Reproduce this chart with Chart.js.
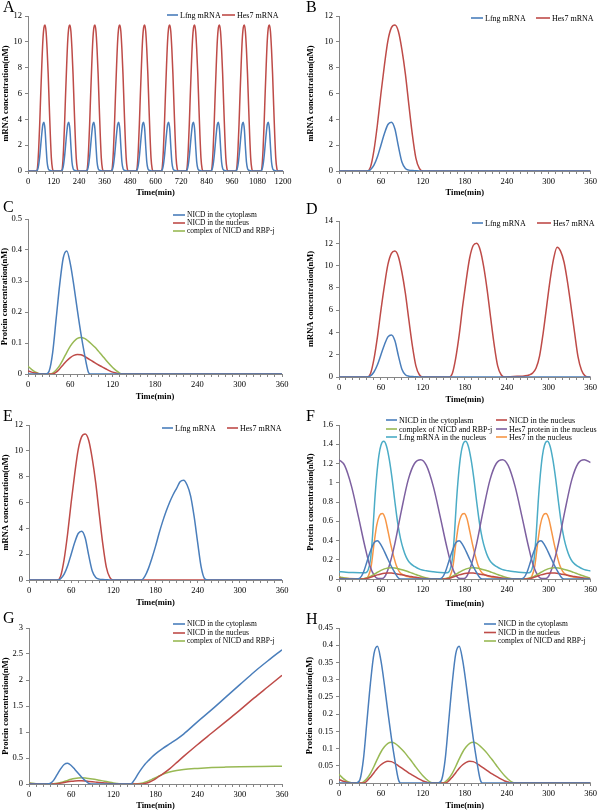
<!DOCTYPE html>
<html>
<head>
<meta charset="utf-8">
<script src="https://cdn.jsdelivr.net/npm/chart.js@4.4.0/dist/chart.umd.min.js"></script>
<style>
  body { margin: 0; background: #fff; width: 600px; height: 811px; position: relative; overflow: hidden;
         font-family: 'Liberation Serif', 'Times New Roman', serif; }
  canvas { position: absolute; }
  .lbl { position: absolute; font-size: 16px; line-height: 16px; color: #000; }
</style>
</head>
<body>
<canvas id="pA" width="300" height="200" style="left:0;top:0"></canvas>
<canvas id="pB" width="300" height="200" style="left:300px;top:0"></canvas>
<canvas id="pC" width="300" height="207" style="left:0;top:200px"></canvas>
<canvas id="pD" width="300" height="207" style="left:300px;top:200px"></canvas>
<canvas id="pE" width="300" height="210" style="left:0;top:400px"></canvas>
<canvas id="pF" width="300" height="210" style="left:300px;top:400px"></canvas>
<canvas id="pG" width="300" height="211" style="left:0;top:600px"></canvas>
<canvas id="pH" width="300" height="211" style="left:300px;top:600px"></canvas>
<div class="lbl" style="left:3px;top:-1.5px">A</div>
<div class="lbl" style="left:306px;top:-1.5px">B</div>
<div class="lbl" style="left:3px;top:198.5px">C</div>
<div class="lbl" style="left:306px;top:200.5px">D</div>
<div class="lbl" style="left:3px;top:407.5px">E</div>
<div class="lbl" style="left:306px;top:407.5px">F</div>
<div class="lbl" style="left:3px;top:609.5px">G</div>
<div class="lbl" style="left:306px;top:610.5px">H</div>
<script>
// series names
const mrnaNames = ['Lfng mRNA', 'Hes7 mRNA'];
const proteinNames = ['NICD in the cytoplasm', 'NICD in the nucleus', 'complex of NICD and RBP-j'];
const fNames = ['NICD in the cytoplasm', 'NICD in the nucleus', 'complex of NICD and RBP-j',
                'Hes7 protein in the nucleus', 'Lfng mRNA in the nucleus', 'Hes7 in the nucleus'];

// A: 0-1200 min
const aTime = [0,
  40,45,50,55,60,65,70,75,80,85,90,95,100,105,110,115,120,
  157,162,167,172,177,182,187,192,197,202,207,212,217,222,227,232,237,
  275,280,285,290,295,300,305,310,315,320,325,330,335,340,345,350,355,
  392,397,402,407,412,417,422,427,432,437,442,447,452,457,462,467,472,
  509,514,519,524,529,534,539,544,549,554,559,564,569,574,579,584,589,
  627,632,637,642,647,652,657,662,667,672,677,682,687,692,697,702,707,
  744,749,754,759,764,769,774,779,784,789,794,799,804,809,814,819,824,
  861,866,871,876,881,886,891,896,901,906,911,916,921,926,931,936,941,
  978,983,988,993,998,1003,1008,1013,1018,1023,1028,1033,1038,1043,1048,1053,1058,
  1096,1101,1106,1111,1116,1121,1126,1131,1136,1141,1146,1151,1156,1161,1166,1171,1176,
  1200];
const aLfng = [0,
  0,0.1,0.45,1.1,2.0,2.9,3.6,3.78,3.25,1.9,0.7,0.2,0.07,0.04,0.02,0,0,
  0,0.1,0.45,1.1,2.0,2.9,3.6,3.78,3.25,1.9,0.7,0.2,0.07,0.04,0.02,0,0,
  0,0.1,0.45,1.1,2.0,2.9,3.6,3.78,3.25,1.9,0.7,0.2,0.07,0.04,0.02,0,0,
  0,0.1,0.45,1.1,2.0,2.9,3.6,3.78,3.25,1.9,0.7,0.2,0.07,0.04,0.02,0,0,
  0,0.1,0.45,1.1,2.0,2.9,3.6,3.78,3.25,1.9,0.7,0.2,0.07,0.04,0.02,0,0,
  0,0.1,0.45,1.1,2.0,2.9,3.6,3.78,3.25,1.9,0.7,0.2,0.07,0.04,0.02,0,0,
  0,0.1,0.45,1.1,2.0,2.9,3.6,3.78,3.25,1.9,0.7,0.2,0.07,0.04,0.02,0,0,
  0,0.1,0.45,1.1,2.0,2.9,3.6,3.78,3.25,1.9,0.7,0.2,0.07,0.04,0.02,0,0,
  0,0.1,0.45,1.1,2.0,2.9,3.6,3.78,3.25,1.9,0.7,0.2,0.07,0.04,0.02,0,0,
  0,0.1,0.45,1.1,2.0,2.9,3.6,3.78,3.25,1.9,0.7,0.2,0.07,0.04,0.02,0,0,
  0];
const aHes7 = [0,
  0,0.3,1.6,3.6,6.0,8.2,10.1,11.1,11.3,10.8,9.4,7.5,5.1,2.8,1.0,0.2,0,
  0,0.3,1.6,3.6,6.0,8.2,10.1,11.1,11.3,10.8,9.4,7.5,5.1,2.8,1.0,0.2,0,
  0,0.3,1.6,3.6,6.0,8.2,10.1,11.1,11.3,10.8,9.4,7.5,5.1,2.8,1.0,0.2,0,
  0,0.3,1.6,3.6,6.0,8.2,10.1,11.1,11.3,10.8,9.4,7.5,5.1,2.8,1.0,0.2,0,
  0,0.3,1.6,3.6,6.0,8.2,10.1,11.1,11.3,10.8,9.4,7.5,5.1,2.8,1.0,0.2,0,
  0,0.3,1.6,3.6,6.0,8.2,10.1,11.1,11.3,10.8,9.4,7.5,5.1,2.8,1.0,0.2,0,
  0,0.3,1.6,3.6,6.0,8.2,10.1,11.1,11.3,10.8,9.4,7.5,5.1,2.8,1.0,0.2,0,
  0,0.3,1.6,3.6,6.0,8.2,10.1,11.1,11.3,10.8,9.4,7.5,5.1,2.8,1.0,0.2,0,
  0,0.3,1.6,3.6,6.0,8.2,10.1,11.1,11.3,10.8,9.4,7.5,5.1,2.8,1.0,0.2,0,
  0,0.3,1.6,3.6,6.0,8.2,10.1,11.1,11.3,10.8,9.4,7.5,5.1,2.8,1.0,0.2,0,
  0];

// B
const bTime = [0,40,45,50,55,60,65,70,75,80,85,90,95,100,105,110,115,120,360];
const bLfng = [0,0,0.1,0.45,1.1,2.0,2.9,3.6,3.78,3.25,1.9,0.7,0.2,0.07,0.04,0.02,0,0,0];
const bHes7 = [0,0,0.3,1.6,3.6,6.0,8.2,10.1,11.1,11.3,10.8,9.4,7.5,5.1,2.8,1.0,0.2,0,0];

// C
const cCytoT = [0,25,30,35,40,45,50,55,60,65,70,75,80,85,88,360];
const cCyto  = [0,0,0.01,0.07,0.18,0.29,0.375,0.397,0.355,0.285,0.205,0.13,0.065,0.01,0,0];
const cNucT = [0,5,10,15,20,35,40,45,50,55,60,65,70,75,80,85,90,95,100,105,110,115,120,125,130,360];
const cNuc  = [0.01,0.006,0.003,0.001,0,0,0.006,0.017,0.03,0.043,0.053,0.06,0.063,0.062,0.057,0.05,0.043,0.036,0.029,0.023,0.017,0.011,0.006,0.003,0,0];
const cCpxT = [0,5,10,15,20,32,35,40,45,50,55,60,65,70,75,80,85,90,95,100,105,110,115,120,125,130,135,360];
const cCpx  = [0.025,0.015,0.007,0.002,0,0,0.003,0.013,0.028,0.048,0.07,0.09,0.105,0.115,0.118,0.115,0.107,0.097,0.086,0.073,0.06,0.046,0.033,0.021,0.011,0.003,0,0];

// D
const dLfngT = [0,40,45,50,55,60,65,70,75,80,85,90,95,100,105,110,115,120,360];
const dLfng  = [0,0,0.1,0.45,1.1,2.0,2.9,3.6,3.78,3.25,1.9,0.7,0.2,0.07,0.04,0.02,0,0,0];
const dHes7T = [0,
  40,45,50,55,60,65,70,75,80,85,90,95,100,105,110,115,120,
  157,162,167,172,177,182,187,192,197,202,207,212,217,222,227,232,237,
  245,255,265,272,277,282,287,292,297,302,307,312,317,322,327,332,337,342,347,352,357,
  360];
const dHes7 = [0,
  0,0.3,1.6,3.6,6.0,8.2,10.1,11.1,11.3,10.8,9.4,7.5,5.1,2.8,1.0,0.2,0,
  0,0.3,1.7,3.8,6.4,8.7,10.7,11.8,12.0,11.4,9.9,7.8,5.3,2.9,1.0,0.2,0,
  0.03,0.06,0.1,0.18,0.35,0.8,1.9,3.9,6.3,8.7,10.6,11.65,11.3,10.3,8.5,6.3,4.0,1.8,0.6,0.1,0,
  0];

// E
const eLfngT = [0,40,45,50,55,60,65,70,75,80,85,90,95,100,105,110,115,120,
  160,165,170,175,180,185,190,195,200,205,210,215,220,225,230,235,240,245,250,255,360];
const eLfng  = [0,0,0.1,0.45,1.1,2.0,2.9,3.6,3.78,3.25,1.9,0.7,0.2,0.07,0.04,0.02,0,0,
  0,0.3,0.9,1.7,2.6,3.6,4.5,5.3,6.0,6.6,7.1,7.6,7.72,7.35,6.5,4.9,2.9,1.0,0.1,0,0];
const eHes7T = [0,40,45,50,55,60,65,70,75,80,85,90,95,100,105,110,115,120,360];
const eHes7  = [0,0,0.3,1.6,3.6,6.0,8.2,10.1,11.1,11.3,10.8,9.4,7.5,5.1,2.8,1.0,0.2,0,0];

// F
const fCytoT = [0,25,30,35,40,45,50,55,60,65,70,75,80,85,88,
  142,147,152,157,162,167,172,177,182,187,192,197,202,205,
  259,264,269,274,279,284,289,294,299,304,309,314,319,322,360];
const fCyto = [0,0,0.01,0.07,0.18,0.29,0.375,0.397,0.355,0.285,0.205,0.13,0.065,0.01,0,
  0,0.01,0.07,0.18,0.29,0.375,0.397,0.355,0.285,0.205,0.13,0.065,0.01,0,
  0,0.01,0.07,0.18,0.29,0.375,0.397,0.355,0.285,0.205,0.13,0.065,0.01,0,0];
const fNucT = [0,5,10,15,20,
  35,40,45,50,55,60,65,70,75,80,85,90,95,100,105,110,115,120,125,130,
  152,157,162,167,172,177,182,187,192,197,202,207,212,217,222,227,232,237,242,247,
  269,274,279,284,289,294,299,304,309,314,319,324,329,334,339,344,349,354,359];
const fNuc = [0.01,0.006,0.003,0.001,0,
  0,0.006,0.017,0.03,0.043,0.053,0.06,0.063,0.062,0.057,0.05,0.043,0.036,0.029,0.023,0.017,0.011,0.006,0.003,0,
  0,0.006,0.017,0.03,0.043,0.053,0.06,0.063,0.062,0.057,0.05,0.043,0.036,0.029,0.023,0.017,0.011,0.006,0.003,0,
  0,0.006,0.017,0.03,0.043,0.053,0.06,0.063,0.062,0.057,0.05,0.043,0.036,0.029,0.023,0.017,0.011,0.006,0.003];
const fCpxT = [0,5,10,15,20,
  32,35,40,45,50,55,60,65,70,75,80,85,90,95,100,105,110,115,120,125,130,135,
  149,152,157,162,167,172,177,182,187,192,197,202,207,212,217,222,227,232,237,242,247,252,
  266,269,274,279,284,289,294,299,304,309,314,319,324,329,334,339,344,349,354,359];
const fCpx = [0.025,0.015,0.007,0.002,0,
  0,0.003,0.013,0.028,0.048,0.07,0.09,0.105,0.115,0.118,0.115,0.107,0.097,0.086,0.073,0.06,0.046,0.033,0.021,0.011,0.003,0,
  0,0.003,0.013,0.028,0.048,0.07,0.09,0.105,0.115,0.118,0.115,0.107,0.097,0.086,0.073,0.06,0.046,0.033,0.021,0.011,0.003,0,
  0,0.003,0.013,0.028,0.048,0.07,0.09,0.105,0.115,0.118,0.115,0.107,0.097,0.086,0.073,0.06,0.046,0.033,0.021,0.011];
const fHes7pT = [0,8,18,28,37,44,51,56,62,66,72,80,89,99,108,117,
  125,135,145,154,161,168,173,179,183,189,197,206,216,225,234,
  242,252,262,271,278,285,290,296,300,306,314,323,333,342,351,360];
const fHes7p = [1.24,1.18,0.96,0.64,0.34,0.14,0.03,0.005,0.005,0.03,0.14,0.37,0.7,1.03,1.2,1.24,
  1.18,0.96,0.64,0.34,0.14,0.03,0.005,0.005,0.03,0.14,0.37,0.7,1.03,1.2,1.24,
  1.18,0.96,0.64,0.34,0.14,0.03,0.005,0.005,0.03,0.14,0.37,0.7,1.03,1.2,1.24,1.21];
const fLfngT = [0,10,20,30,
  38,42,45,48,51,54,57,60,64,68,72,76,80,84,88,92,96,100,108,116,125,135,145,
  155,159,162,165,168,171,174,177,181,185,189,193,197,201,205,209,213,217,225,233,242,252,262,
  272,276,279,282,285,288,291,294,298,302,306,310,314,318,322,326,330,334,342,350,359,360];
const fLfng = [0.076,0.071,0.068,0.066,
  0.065,0.1,0.2,0.45,0.8,1.08,1.28,1.39,1.43,1.38,1.24,1.04,0.8,0.58,0.42,0.31,0.23,0.18,0.13,0.1,0.085,0.075,0.068,
  0.065,0.1,0.2,0.45,0.8,1.08,1.28,1.39,1.43,1.38,1.24,1.04,0.8,0.58,0.42,0.31,0.23,0.18,0.13,0.1,0.085,0.075,0.068,
  0.065,0.1,0.2,0.45,0.8,1.08,1.28,1.39,1.43,1.38,1.24,1.04,0.8,0.58,0.42,0.31,0.23,0.18,0.13,0.1,0.085,0.084];
const fHes7nT = [0,15,30,
  38,42,46,50,54,58,62,66,70,74,78,82,86,90,98,110,125,140,
  155,159,163,167,171,175,179,183,187,191,195,199,203,207,215,227,242,257,
  272,276,280,284,288,292,296,300,304,308,312,316,320,324,332,344,359,360];
const fHes7n = [0.012,0.005,0.002,
  0.004,0.03,0.13,0.36,0.56,0.66,0.68,0.63,0.5,0.36,0.24,0.14,0.08,0.05,0.025,0.01,0.004,0.002,
  0.004,0.03,0.13,0.36,0.56,0.66,0.68,0.63,0.5,0.36,0.24,0.14,0.08,0.05,0.025,0.01,0.004,0.002,
  0.004,0.03,0.13,0.36,0.56,0.66,0.68,0.63,0.5,0.36,0.24,0.14,0.08,0.05,0.025,0.01,0.004,0.004];

// G
const gCytoT = [0,25,30,35,40,45,50,55,60,65,70,75,80,85,88,
  145,150,155,160,165,170,175,180,190,200,210,220,240,260,280,300,320,340,360];
const gCyto = [0,0,0.01,0.07,0.18,0.29,0.375,0.397,0.355,0.285,0.205,0.13,0.065,0.01,0,
  0,0.08,0.19,0.29,0.38,0.45,0.52,0.58,0.68,0.77,0.86,0.96,1.2,1.43,1.67,1.91,2.15,2.37,2.58];
const gNucT = [0,5,10,15,20,35,40,45,50,55,60,65,70,75,80,85,90,95,100,105,110,115,120,125,130,
  158,165,170,175,180,185,190,200,210,220,240,260,280,300,320,340,360];
const gNuc = [0.01,0.006,0.003,0.001,0,0,0.006,0.017,0.03,0.043,0.053,0.06,0.063,0.062,0.057,0.05,0.043,0.036,0.029,0.023,0.017,0.011,0.006,0.003,0,
  0,0.012,0.03,0.06,0.1,0.145,0.19,0.29,0.41,0.53,0.76,0.98,1.2,1.42,1.65,1.87,2.09];
const gCpxT = [0,5,10,15,20,32,35,40,45,50,55,60,65,70,75,80,85,90,95,100,105,110,115,120,125,130,135,
  150,155,160,165,170,175,180,185,190,200,210,220,240,260,280,300,330,360];
const gCpx = [0.025,0.015,0.007,0.002,0,0,0.003,0.013,0.028,0.048,0.07,0.09,0.105,0.115,0.118,0.115,0.107,0.097,0.086,0.073,0.06,0.046,0.033,0.021,0.011,0.003,0,
  0,0.005,0.015,0.035,0.06,0.09,0.12,0.155,0.185,0.23,0.26,0.28,0.3,0.315,0.325,0.333,0.338,0.34];

// H
const hCytoT = [0,25,30,35,40,45,50,55,60,65,70,75,80,85,88,
  142,147,152,157,162,167,172,177,182,187,192,197,202,205,360];
const hCyto = [0,0,0.01,0.07,0.18,0.29,0.375,0.397,0.355,0.285,0.205,0.13,0.065,0.01,0,
  0,0.01,0.07,0.18,0.29,0.375,0.397,0.355,0.285,0.205,0.13,0.065,0.01,0,0];
const hNucT = [0,5,10,15,20,35,40,45,50,55,60,65,70,75,80,85,90,95,100,105,110,115,120,125,130,
  152,157,162,167,172,177,182,187,192,197,202,207,212,217,222,227,232,237,242,247,360];
const hNuc = [0.01,0.006,0.003,0.001,0,0,0.006,0.017,0.03,0.043,0.053,0.06,0.063,0.062,0.057,0.05,0.043,0.036,0.029,0.023,0.017,0.011,0.006,0.003,0,
  0,0.006,0.017,0.03,0.043,0.053,0.06,0.063,0.062,0.057,0.05,0.043,0.036,0.029,0.023,0.017,0.011,0.006,0.003,0,0];
const hCpxT = [0,5,10,15,20,32,35,40,45,50,55,60,65,70,75,80,85,90,95,100,105,110,115,120,125,130,135,
  149,152,157,162,167,172,177,182,187,192,197,202,207,212,217,222,227,232,237,242,247,252,360];
const hCpx = [0.025,0.015,0.007,0.002,0,0,0.003,0.013,0.028,0.048,0.07,0.09,0.105,0.115,0.118,0.115,0.107,0.097,0.086,0.073,0.06,0.046,0.033,0.021,0.011,0.003,0,
  0,0.003,0.013,0.028,0.048,0.07,0.09,0.105,0.115,0.118,0.115,0.107,0.097,0.086,0.073,0.06,0.046,0.033,0.021,0.011,0.003,0,0];

const SERIF = "'Liberation Serif', 'Times New Roman', serif";
const AXIS = '#868686';
const BLUE = '#4A7EBB', RED = '#BE4B48', GREEN = '#98B954',
      PURPLE = '#7D60A0', TEAL = '#4BACC6', ORANGE = '#F79646';

function pts(t, v) { return t.map((x, i) => ({ x: x, y: v[i] })); }

// legend drawn inside the plot, Excel style
const panelLegend = {
  id: 'panelLegend',
  afterDraw(chart, args, opts) {
    const ctx = chart.ctx;
    ctx.save();
    ctx.font = opts.size + 'px ' + SERIF;
    ctx.textBaseline = 'middle';
    chart.data.datasets.forEach((ds, i) => {
      const it = opts.items[i];
      ctx.strokeStyle = ds.borderColor;
      ctx.lineWidth = 1.6;
      ctx.beginPath();
      ctx.moveTo(it.x, it.y);
      ctx.lineTo(it.x + it.len, it.y);
      ctx.stroke();
      ctx.fillStyle = '#000';
      ctx.fillText(ds.label, it.x + it.len + 2, it.y + 0.5);
    });
    ctx.restore();
  }
};

function panel(id, p) {
  const canvas = document.getElementById(id);
  const W = canvas.width, H = canvas.height;
  const half = 8.5 * 1.2 / 2;
  const padL = Math.max(0, p.yTitleX - half);
  const padB = Math.max(0, H - p.xTitleY - half);
  const tickFont = { family: SERIF, size: 8.5 };
  const titleFont = { family: SERIF, size: 8.5, weight: 'bold' };
  new Chart(canvas, {
    type: 'line',
    data: {
      datasets: p.series.map(s => ({
        label: s.name, data: pts(s.t, s.v), borderColor: s.color, borderWidth: 1.5,
        pointRadius: 0, fill: false, cubicInterpolationMode: 'monotone'
      }))
    },
    options: {
      responsive: false, animation: false, events: [],
      layout: { padding: { left: padL, right: W - p.plot.r, top: p.plot.t, bottom: padB } },
      plugins: {
        legend: { display: false }, tooltip: { enabled: false },
        panelLegend: { items: p.legend, size: p.legendSize }
      },
      scales: {
        x: {
          type: 'linear', min: 0, max: p.xMax,
          ticks: { stepSize: p.xMinor, autoSkip: false, maxRotation: 0, color: '#000', font: tickFont, padding: 3,
                   callback: v => (v % p.xMajor === 0 ? String(v) : '') },
          grid: { drawOnChartArea: false, color: AXIS, tickLength: 3 },
          border: { color: AXIS },
          title: { display: true, text: 'Time(min)', color: '#000', font: titleFont, padding: 0 },
          afterFit: s => { s.height = H - padB - p.plot.b; }
        },
        y: {
          min: 0, max: p.yMax,
          ticks: { stepSize: p.yStep, color: '#000', font: tickFont, padding: 3,
                   callback: v => String(+v.toFixed(2)) },
          grid: { drawOnChartArea: false, color: AXIS, tickLength: 3 },
          border: { color: AXIS },
          title: { display: true, text: p.yTitle, color: '#000', font: titleFont, padding: 0 },
          afterFit: s => { s.width = p.plot.l - padL; }
        }
      }
    },
    plugins: [panelLegend]
  });
}

const mrnaTitle = 'mRNA concentration(nM)';
const protTitle = 'Protein concentration(nM)';

panel('pA', {
  plot: { l: 28, r: 283, t: 16, b: 171 }, yTitleX: 6, xTitleY: 193,
  xMax: 1200, xMinor: 40, xMajor: 120, yMax: 12, yStep: 2, yTitle: mrnaTitle, legendSize: 8,
  series: [
    { name: mrnaNames[0], t: aTime, v: aLfng, color: BLUE },
    { name: mrnaNames[1], t: aTime, v: aHes7, color: RED }
  ],
  legend: [{ x: 167, y: 15, len: 11 }, { x: 222, y: 15, len: 13 }]
});

panel('pB', {
  plot: { l: 39, r: 292, t: 16, b: 171 }, yTitleX: 11, xTitleY: 193,
  xMax: 360, xMinor: 10, xMajor: 60, yMax: 12, yStep: 2, yTitle: mrnaTitle, legendSize: 8,
  series: [
    { name: mrnaNames[0], t: bTime, v: bLfng, color: BLUE },
    { name: mrnaNames[1], t: bTime, v: bHes7, color: RED }
  ],
  legend: [{ x: 171, y: 18, len: 12 }, { x: 236, y: 18, len: 14 }]
});

panel('pC', {
  plot: { l: 28, r: 282, t: 19, b: 174 }, yTitleX: 5, xTitleY: 196.5,
  xMax: 360, xMinor: 10, xMajor: 60, yMax: 0.5, yStep: 0.1, yTitle: protTitle, legendSize: 7.5,
  series: [
    { name: proteinNames[0], t: cCytoT, v: cCyto, color: BLUE },
    { name: proteinNames[1], t: cNucT, v: cNuc, color: RED },
    { name: proteinNames[2], t: cCpxT, v: cCpx, color: GREEN }
  ],
  legend: [{ x: 173, y: 15, len: 12 }, { x: 173, y: 23, len: 12 }, { x: 173, y: 31, len: 12 }]
});

panel('pD', {
  plot: { l: 39, r: 292, t: 21, b: 177 }, yTitleX: 11, xTitleY: 200,
  xMax: 360, xMinor: 10, xMajor: 60, yMax: 14, yStep: 2, yTitle: mrnaTitle, legendSize: 8,
  series: [
    { name: mrnaNames[0], t: dLfngT, v: dLfng, color: BLUE },
    { name: mrnaNames[1], t: dHes7T, v: dHes7, color: RED }
  ],
  legend: [{ x: 172, y: 23, len: 11 }, { x: 237, y: 23, len: 14 }]
});

panel('pE', {
  plot: { l: 29, r: 282, t: 25, b: 180 }, yTitleX: 6, xTitleY: 203,
  xMax: 360, xMinor: 10, xMajor: 60, yMax: 12, yStep: 2, yTitle: mrnaTitle, legendSize: 8,
  series: [
    { name: mrnaNames[0], t: eLfngT, v: eLfng, color: BLUE },
    { name: mrnaNames[1], t: eHes7T, v: eHes7, color: RED }
  ],
  legend: [{ x: 162, y: 28, len: 11 }, { x: 227, y: 28, len: 11 }]
});

panel('pF', {
  plot: { l: 39, r: 292, t: 25, b: 179 }, yTitleX: 11, xTitleY: 203.5,
  xMax: 360, xMinor: 10, xMajor: 60, yMax: 1.6, yStep: 0.2, yTitle: protTitle, legendSize: 8,
  series: [
    { name: fNames[0], t: fCytoT, v: fCyto, color: BLUE },
    { name: fNames[1], t: fNucT, v: fNuc, color: RED },
    { name: fNames[2], t: fCpxT, v: fCpx, color: GREEN },
    { name: fNames[3], t: fHes7pT, v: fHes7p, color: PURPLE },
    { name: fNames[4], t: fLfngT, v: fLfng, color: TEAL },
    { name: fNames[5], t: fHes7nT, v: fHes7n, color: ORANGE }
  ],
  legend: [{ x: 86, y: 20, len: 11 }, { x: 196, y: 20, len: 11 },
           { x: 86, y: 29, len: 11 }, { x: 196, y: 29, len: 11 },
           { x: 86, y: 37, len: 11 }, { x: 196, y: 37, len: 11 }]
});

panel('pG', {
  plot: { l: 29, r: 282, t: 28, b: 184 }, yTitleX: 6, xTitleY: 205.5,
  xMax: 360, xMinor: 10, xMajor: 60, yMax: 3, yStep: 0.5, yTitle: protTitle, legendSize: 7.5,
  series: [
    { name: proteinNames[0], t: gCytoT, v: gCyto, color: BLUE },
    { name: proteinNames[1], t: gNucT, v: gNuc, color: RED },
    { name: proteinNames[2], t: gCpxT, v: gCpx, color: GREEN }
  ],
  legend: [{ x: 173, y: 24, len: 12 }, { x: 173, y: 33, len: 12 }, { x: 173, y: 41, len: 12 }]
});

panel('pH', {
  plot: { l: 39, r: 292, t: 28, b: 183 }, yTitleX: 10, xTitleY: 205.5,
  xMax: 360, xMinor: 10, xMajor: 60, yMax: 0.45, yStep: 0.05, yTitle: protTitle, legendSize: 7.5,
  series: [
    { name: proteinNames[0], t: hCytoT, v: hCyto, color: BLUE },
    { name: proteinNames[1], t: hNucT, v: hNuc, color: RED },
    { name: proteinNames[2], t: hCpxT, v: hCpx, color: GREEN }
  ],
  legend: [{ x: 184, y: 24, len: 12 }, { x: 184, y: 32.5, len: 12 }, { x: 184, y: 41, len: 12 }]
});
</script>
</body>
</html>
